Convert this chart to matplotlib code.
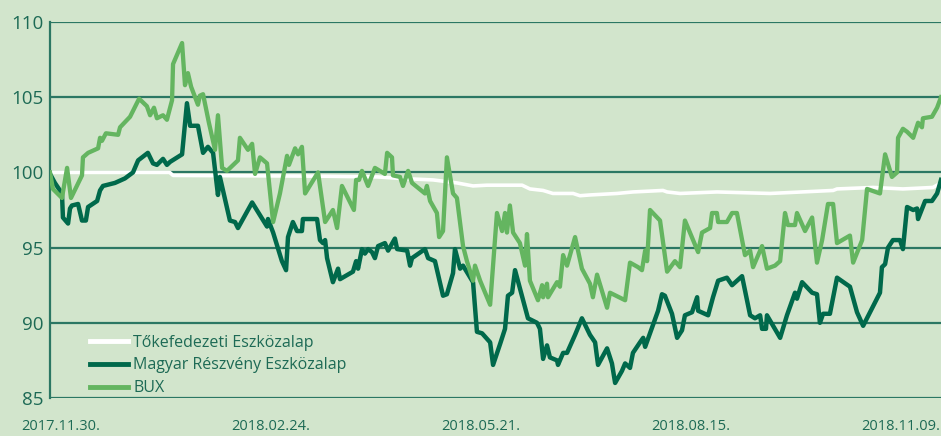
import matplotlib
matplotlib.use("Agg")
import matplotlib.pyplot as plt
import matplotlib.transforms as mtransforms

# ---- data (x = days since 2017.11.30.) ----
bux_days = [0, 1.2, 4.9, 7.0, 8.6, 13.1, 13.5, 15.6, 19.7, 20.5, 21.3, 22.9, 27.9, 28.7, 32.8, 36.5,
            39.7, 41.0, 42.6, 43.8, 46.3, 47.9, 50.0, 50.4, 54.1, 55.3, 56.5, 57.8, 60.6, 61.4, 62.7,
            65.1, 67.6, 68.8, 70.5, 72.5, 77.0, 77.8, 81.1, 82.8, 84.0, 86.0, 88.9, 91.4, 94.2, 97.1,
            97.9, 100.4, 101.6, 103.2, 104.5, 109.8, 112.7, 115.9, 117.6, 119.6, 124.5, 125.4, 126.6,
            127.8, 130.3, 133.1, 137.2, 138.1, 140.1, 140.5, 143.4, 144.6, 146.7, 148.3, 153.6, 154.4,
            155.7, 158.5, 159.4, 161.0, 162.6, 165.1, 166.7, 169.2, 170.8, 173.3, 174.1, 176.2, 180.3,
            183.1, 185.2, 186.4, 187.2, 188.4, 189.7, 192.5, 194.6, 195.4, 196.6, 199.9, 201.6, 202.0,
            203.6, 204.0, 207.7, 208.9, 210.2, 211.8, 215.1, 217.9, 221.2, 222.4, 224.1, 228.2, 229.4,
            235.6, 237.6, 240.9, 242.5, 243.8, 244.6, 245.8, 249.9, 252.8, 256.0, 258.1, 260.1, 265.5,
            267.1, 270.4, 271.2, 273.2, 273.7, 277.3, 279.4, 281.4, 284.7, 286.8, 288.0, 291.7, 293.7,
            297.0, 299.1, 301.1, 302.3, 305.2, 306.0, 309.3, 312.2, 314.2, 316.3, 318.7, 320.8, 322.4,
            327.7, 329.0, 332.7, 334.7, 340.0, 342.1, 344.9, 347.0, 347.4, 349.4, 351.1, 353.6, 355.6,
            357.2, 357.6, 361.3, 363.4, 365.0]
bux_vals = [100.0, 98.9, 98.3, 100.3, 98.3, 99.8, 101.0, 101.3, 101.6, 102.3, 102.1, 102.6, 102.5, 103.0,
            103.7, 104.9, 104.4, 103.8, 104.3, 103.6, 103.8, 103.5, 104.8, 107.2, 108.6, 105.8, 106.6,
            105.7, 104.5, 105.1, 105.2, 103.3, 101.5, 103.8, 100.3, 100.1, 100.8, 102.3, 101.5, 101.9,
            99.9, 101.0, 100.6, 96.7, 98.6, 101.1, 100.5, 101.6, 101.2, 101.7, 98.6, 100.0, 96.7, 97.5,
            96.3, 99.1, 97.5, 99.5, 99.5, 100.1, 99.1, 100.3, 99.9, 101.3, 101.0, 99.8, 99.7, 99.1,
            100.1, 99.3, 98.6, 99.1, 98.1, 97.3, 95.7, 96.1, 101.0, 98.6, 98.3, 95.1, 94.1, 92.8, 93.8,
            92.8, 91.2, 97.3, 96.1, 97.3, 96.0, 97.8, 96.0, 95.3, 93.8, 95.9, 92.8, 91.5, 92.5, 91.7,
            92.6, 91.7, 92.7, 92.4, 94.5, 93.8, 95.7, 93.6, 92.6, 91.7, 93.2, 91.0, 92.0, 91.5, 94.0,
            93.7, 93.5, 94.8, 94.1, 97.5, 96.8, 93.4, 94.1, 93.7, 96.8, 94.7, 96.0, 96.3, 97.3, 97.3,
            96.7, 96.7, 97.3, 97.3, 94.5, 94.8, 93.7, 95.1, 93.6, 93.8, 94.1, 97.3, 96.5, 96.5, 97.3,
            96.1, 97.0, 94.0, 95.5, 97.9, 97.9, 95.3, 95.8, 94.0, 95.5, 98.9, 98.6, 101.2, 99.7, 100.0,
            102.3, 102.9, 102.7, 102.3, 103.3, 103.0, 103.6, 103.7, 104.3, 105.0]

mre_days = [0, 2.0, 4.9, 5.3, 7.4, 8.2, 9.0, 11.5, 13.1, 14.7, 15.6, 19.3, 20.5, 21.7, 26.6, 30.7, 34.0,
            36.1, 40.1, 42.2, 43.8, 46.3, 47.9, 49.2, 54.1, 56.1, 57.4, 60.6, 62.7, 64.7, 66.8, 68.8,
            69.6, 73.7, 75.8, 77.0, 78.7, 82.8, 88.9, 89.3, 91.4, 95.0, 96.7, 97.5, 99.5, 101.2, 103.2,
            103.6, 109.4, 110.6, 111.8, 112.7, 113.5, 115.9, 118.0, 118.8, 124.1, 125.4, 126.2, 127.8,
            129.0, 130.3, 131.9, 133.1, 134.4, 137.2, 138.5, 141.3, 142.2, 146.3, 147.5, 148.3, 153.6,
            154.9, 157.7, 161.0, 162.6, 165.1, 165.9, 168.0, 169.2, 173.3, 174.9, 177.0, 180.3, 181.5,
            184.4, 186.4, 187.6, 189.3, 190.5, 195.8, 199.5, 200.7, 202.0, 203.6, 204.8, 207.7, 208.1,
            210.2, 211.8, 215.1, 217.9, 221.2, 223.3, 224.5, 228.2, 230.2, 231.5, 234.3, 235.6, 237.6,
            238.8, 241.7, 243.0, 243.8, 245.8, 249.1, 250.7, 251.9, 254.8, 256.9, 258.9, 260.1, 263.0,
            265.1, 265.5, 269.6, 271.6, 273.7, 277.3, 279.4, 283.5, 286.8, 288.8, 290.9, 291.7, 293.3,
            293.7, 299.1, 301.9, 305.2, 306.0, 308.1, 312.2, 314.2, 315.4, 316.7, 319.5, 322.4, 327.7,
            330.6, 333.1, 340.0, 340.8, 342.1, 343.3, 345.3, 348.2, 349.4, 351.1, 353.6, 355.2, 355.6,
            358.5, 361.3, 363.4, 365.0]
mre_vals = [99.9, 99.3, 98.6, 97.0, 96.6, 97.6, 97.8, 97.9, 96.8, 96.8, 97.7, 98.1, 98.8, 99.1, 99.3,
            99.6, 100.0, 100.8, 101.3, 100.6, 100.5, 100.9, 100.5, 100.7, 101.2, 104.6, 103.1, 103.1,
            101.3, 101.7, 101.3, 98.5, 99.7, 96.8, 96.7, 96.3, 96.8, 98.0, 96.4, 96.9, 96.0, 94.1, 93.5,
            95.7, 96.7, 96.1, 96.1, 96.9, 96.9, 95.5, 95.3, 95.5, 94.3, 92.7, 93.6, 92.9, 93.4, 94.1,
            93.6, 94.9, 94.6, 94.9, 94.7, 94.3, 95.1, 95.3, 94.8, 95.6, 94.9, 94.8, 93.8, 94.3, 94.9,
            94.3, 94.1, 91.8, 91.9, 93.3, 94.9, 93.6, 93.8, 92.7, 89.4, 89.3, 88.7, 87.2, 88.6, 89.6,
            91.8, 92.0, 93.5, 90.3, 90.0, 89.6, 87.6, 88.5, 87.7, 87.5, 87.2, 88.0, 88.0, 89.2, 90.3,
            89.2, 88.7, 87.2, 88.3, 87.3, 86.0, 86.8, 87.3, 87.0, 88.0, 88.7, 89.0, 88.4, 89.3, 90.8,
            91.9, 91.8, 90.6, 89.0, 89.5, 90.5, 90.7, 91.7, 90.8, 90.5, 91.7, 92.8, 93.0, 92.5, 93.1,
            90.5, 90.3, 90.5, 89.6, 89.6, 90.5, 89.0, 90.5, 92.0, 91.6, 92.7, 92.0, 91.9, 90.0, 90.6,
            90.6, 93.0, 92.4, 90.7, 89.8, 92.0, 93.7, 93.9, 95.0, 95.5, 95.5, 94.9, 97.7, 97.5, 97.6,
            96.9, 98.1, 98.1, 98.6, 99.5]

tok_days = [0, 49.0, 50.4, 110.6, 134.0, 143.4, 156.9, 166.7, 173.3, 179.0, 193.4, 196.6, 202.0, 206.0,
            214.3, 217.1, 221.2, 232.3, 238.8, 251.1, 252.8, 258.1, 273.2, 295.0, 308.0, 320.8, 322.4,
            337.2, 349.4, 361.7, 365.0]
tok_vals = [100.0, 100.0, 99.8, 99.75, 99.7, 99.6, 99.5, 99.3, 99.1, 99.15, 99.15, 98.9, 98.8, 98.6,
            98.6, 98.45, 98.5, 98.6, 98.7, 98.8, 98.7, 98.6, 98.7, 98.6, 98.7, 98.8, 98.9, 99.0, 98.9,
            99.0, 99.3]

series_names = ["Tőkefedezeti Eszközalap", "Magyar Részvény Eszközalap", "BUX"]
tick_days = [0, 86, 172, 258, 344]
tick_labels = ["2017.11.30.", "2018.02.24.", "2018.05.21.", "2018.08.15.", "2018.11.09."]
y_ticks = [85, 90, 95, 100, 105, 110]

# ---- style ----
BG = "#D2E5CC"
DARK = "#00694B"
LIGHT = "#64B560"
GRID = "#2B7763"
TXT = "#1D6A55"
plt.rcParams['font.family'] = ['Open Sans', 'DejaVu Sans']

fig = plt.figure(figsize=(9.41, 4.36), dpi=100, facecolor=BG)
ax = fig.add_axes([50 / 941, 38 / 436, 891 / 941, 376 / 436])
ax.set_facecolor(BG)

for yv in y_ticks:
    ax.axhline(yv, color=GRID, lw=1.6, zorder=1)

ax.plot(tok_days, tok_vals, color="white", lw=2.6, zorder=3, label=series_names[0])
ax.plot(mre_days, mre_vals, color=DARK, lw=3.2, zorder=4, label=series_names[1])
ax.plot(bux_days, bux_vals, color=LIGHT, lw=3.1, zorder=5, label=series_names[2])

ax.set_xlim(0, 365)
ax.set_ylim(85, 110)
for s in ["top", "right", "bottom"]:
    ax.spines[s].set_visible(False)
ax.spines["left"].set_color(GRID)
ax.spines["left"].set_linewidth(1.6)

ax.set_yticks(y_ticks)
ax.set_yticklabels([str(v) for v in y_ticks])
ax.tick_params(axis="y", length=0, pad=5, labelsize=13.5, labelcolor=TXT)
ax.set_xticks(tick_days)
ax.set_xticklabels(tick_labels)
ax.tick_params(axis="x", length=0, pad=15, labelsize=10.5, labelcolor=TXT)
offset = mtransforms.ScaledTranslation(11 / 100, 0, fig.dpi_scale_trans)
for lab in ax.get_xticklabels():
    lab.set_transform(lab.get_transform() + offset)

leg = ax.legend(loc="lower left", bbox_to_anchor=(0.038, -0.012), frameon=False,
                handlelength=2.35, handletextpad=0.35, labelspacing=0.42,
                fontsize=11.5, borderaxespad=0.0)
for t in leg.get_texts():
    t.set_color(TXT)
for h in leg.get_lines():
    h.set_linewidth(3.5)

fig.savefig("out.png", dpi=100, facecolor=BG)
